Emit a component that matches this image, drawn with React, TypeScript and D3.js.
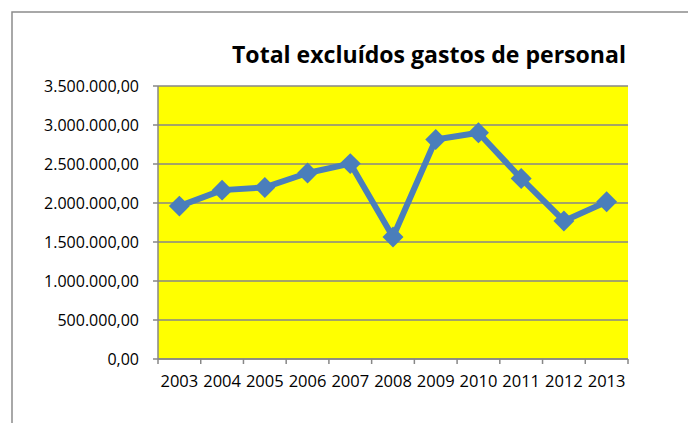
import * as d3 from "d3";

const years = ["2003", "2004", "2005", "2006", "2007", "2008", "2009", "2010", "2011", "2012", "2013"];
const totals = [1960000, 2165000, 2200000, 2385000, 2505000, 1565000, 2815000, 2900000, 2315000, 1770000, 2015000];
const yTicks = [0, 500000, 1000000, 1500000, 2000000, 2500000, 3000000, 3500000];

const W = 688;
const H = 423;
const plot = { left: 158, right: 628, top: 86, bottom: 359 };

const fmt = (v: number) => {
  const s = d3.format(",.2f")(v);
  return s.replace(/,/g, "#").replace(".", ",").replace(/#/g, ".");
};

export default function App() {
  const x = d3.scaleBand<string>().domain(years).range([plot.left, plot.right]);
  const y = d3.scaleLinear().domain([0, 3500000]).range([plot.bottom, plot.top]);

  const line = d3
    .line<number>()
    .x((_, i) => (x(years[i]) ?? 0) + x.bandwidth() / 2)
    .y((d) => y(d));

  const diamond = d3.symbol().type(d3.symbolDiamond2).size(280)();

  const grid = "#878787";
  const font = "'Open Sans', 'DejaVu Sans', sans-serif";

  return (
    <svg
      width={W}
      height={H}
      style={{ position: "absolute", left: 0, top: 0, background: "#fff" }}
    >
      {/* chart frame (partially outside the view) */}
      <rect x={12} y={12} width={W + 20} height={H + 20} fill="none" stroke="#8c8c8c" strokeWidth={1.5} />

      {/* plot background */}
      <rect
        x={plot.left}
        y={plot.top}
        width={plot.right - plot.left}
        height={plot.bottom - plot.top}
        fill="#ffff00"
      />

      {/* gridlines + y labels */}
      {yTicks.map((t) => (
        <g key={t}>
          <line x1={plot.left - 5} x2={plot.right} y1={y(t)} y2={y(t)} stroke={grid} strokeWidth={1.5} />
          <text
            x={139}
            y={y(t)}
            dy="0.36em"
            textAnchor="end"
            fontFamily={font}
            fontSize={16}
            fill="#000"
          >
            {fmt(t)}
          </text>
        </g>
      ))}

      {/* axes */}
      <line x1={plot.left} x2={plot.left} y1={plot.top} y2={plot.bottom} stroke={grid} strokeWidth={1.5} />
      <line x1={plot.left} x2={plot.right} y1={plot.bottom} y2={plot.bottom} stroke={grid} strokeWidth={1.5} />
      {[...years.map((yr) => x(yr) ?? 0), plot.right].map((px, i) => (
        <line key={i} x1={px} x2={px} y1={plot.bottom} y2={plot.bottom + 5} stroke={grid} strokeWidth={1.5} />
      ))}

      {/* x labels */}
      {years.map((yr) => (
        <text
          key={yr}
          x={(x(yr) ?? 0) + x.bandwidth() / 2}
          y={387}
          textAnchor="middle"
          fontFamily={font}
          fontSize={16.5}
          fill="#000"
        >
          {yr}
        </text>
      ))}

      {/* series */}
      <path d={line(totals) ?? ""} fill="none" stroke="#4a7ebb" strokeWidth={6} strokeLinejoin="round" />
      {totals.map((v, i) => (
        <path
          key={i}
          d={diamond ?? ""}
          transform={`translate(${(x(years[i]) ?? 0) + x.bandwidth() / 2},${y(v)})`}
          fill="#4a7ebb"
        />
      ))}

      {/* title */}
      <text
        x={626}
        y={63}
        textAnchor="end"
        fontFamily={font}
        fontWeight="bold"
        fontSize={24}
        textLength={394}
        lengthAdjust="spacingAndGlyphs"
        fill="#000"
      >
        Total excluídos gastos de personal
      </text>
    </svg>
  );
}
